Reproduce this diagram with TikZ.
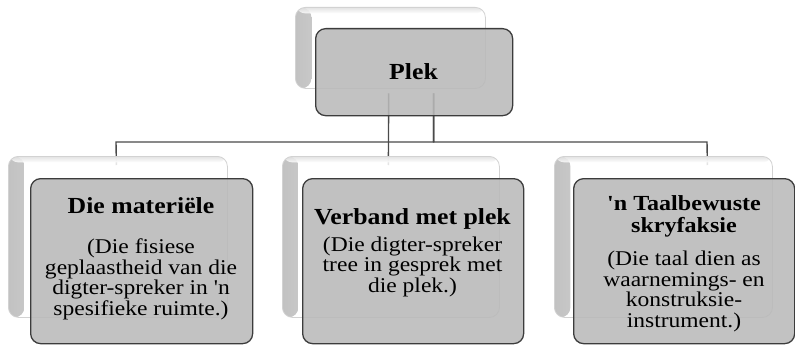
\documentclass[tikz,border=0pt]{standalone}
\usepackage{fontspec}
\setmainfont{Liberation Serif}[FakeStretch=1.12, Ligatures=TeXOff]
\pgfdeclarelayer{bg}
\pgfsetlayers{bg,main}
\definecolor{frontfill}{HTML}{B9B9B9}
\definecolor{frontline}{HTML}{3C3C3C}
\definecolor{connline}{HTML}{4A4A4A}
\begin{document}
\begin{tikzpicture}[x=1pt,y=-1pt,
  backbox/.style={draw=gray!35, line width=0.8pt, fill=white, fill opacity=0.85,
    rounded corners=10pt, inner sep=0pt, anchor=north west,
    path picture={\shade[left color=gray!55, right color=white]
      (path picture bounding box.north west) rectangle
      ([xshift=16pt]path picture bounding box.south west);
      \shade[top color=gray!25, bottom color=white]
      (path picture bounding box.north west) rectangle
      ([yshift=-6pt]path picture bounding box.north east);}},
  frontbox/.style={draw=frontline, line width=1.3pt, fill=frontfill, fill opacity=0.88,
    rounded corners=10pt, inner sep=0pt, anchor=north west},
  txt/.style={font=\fontsize{21}{20.5}\selectfont, align=center, inner sep=0pt,
    anchor=base, text=black},
  conn/.style={draw=connline, line width=1.4pt}
]
\newcommand{\headA}[1]{{\fontsize{23}{23}\selectfont\bfseries #1}}
\newcommand{\headB}[1]{{\fontsize{21.5}{22}\selectfont\bfseries #1}}
\useasboundingbox (0,0) rectangle (795,345);

% top
\node[backbox, minimum width=190pt, minimum height=81pt] (pb) at (295,7) {};
\node[frontbox, minimum width=197pt, minimum height=87pt] (pf) at (315,28) {};
\node[txt, font=\fontsize{23}{24}\selectfont\bfseries] (pt) at (413.5,79) {Plek};

% bottom back boxes
\node[backbox, minimum width=219pt, minimum height=161pt] (lb) at (8,156) {};
\node[backbox, minimum width=217pt, minimum height=161pt] (mb) at (282,156) {};
\node[backbox, minimum width=218pt, minimum height=161pt] (rb) at (554,156) {};

% bottom front boxes
\node[frontbox, minimum width=222pt, minimum height=165pt] (lf) at (30,178) {};
\node[frontbox, minimum width=221pt, minimum height=165pt] (mf) at (302,178) {};
\node[frontbox, minimum width=221pt, minimum height=165pt] (rf) at (573,178) {};

\node[txt] (lt) at (141,315) {\headA{Die materiële}\\[20pt](Die fisiese\\geplaastheid van die\\digter-spreker in 'n\\spesifieke ruimte.)};
\node[txt] (mt) at (412.5,292) {\headA{Verband met plek}\\[6pt](Die digter-spreker\\tree in gesprek met\\die plek.)};
\node[txt] (rt) at (684,327) {\headB{'n Taalbewuste}\\[1.5pt]\headB{skryfaksie}\\[13pt](Die taal dien as\\waarnemings- en\\konstruksie-\\instrument.)};

% connectors
\coordinate (hubL) at (116,142);
\coordinate (hubR) at (707,142);
\begin{pgfonlayer}{bg}
\draw[conn] ([xshift=-25.5pt,yshift=23pt]pf.south) -- ([xshift=-2.5pt,yshift=-9pt]mb.north);
\draw[conn] ([xshift=19.5pt,yshift=23pt]pf.south) |- (hubL) -- ([xshift=-1.5pt,yshift=-9pt]lb.north);
\draw[conn] ([xshift=19.5pt,yshift=23pt]pf.south) |- (hubR) -- ([xshift=44pt,yshift=-9pt]rb.north);
\end{pgfonlayer}
\end{tikzpicture}
\end{document}
